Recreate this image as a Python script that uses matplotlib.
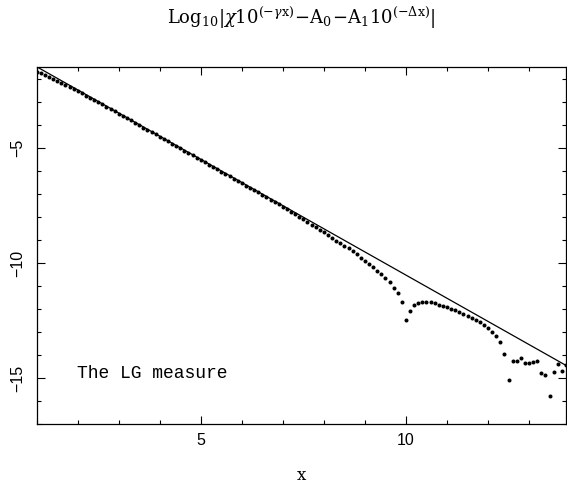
import matplotlib
matplotlib.use('Agg')
import matplotlib.pyplot as plt
from matplotlib.ticker import MultipleLocator

# fitted straight line (end points)
line_x = [1.0, 13.9]
line_y = [-1.45, -14.45]

# computed points, one every 0.1 in x
pts_x = [1.0, 1.1, 1.2, 1.3, 1.4, 1.5, 1.6, 1.7, 1.8, 1.9,
         2.0, 2.1, 2.2, 2.3, 2.4, 2.5, 2.6, 2.7, 2.8, 2.9,
         3.0, 3.1, 3.2, 3.3, 3.4, 3.5, 3.6, 3.7, 3.8, 3.9,
         4.0, 4.1, 4.2, 4.3, 4.4, 4.5, 4.6, 4.7, 4.8, 4.9,
         5.0, 5.1, 5.2, 5.3, 5.4, 5.5, 5.6, 5.7, 5.8, 5.9,
         6.0, 6.1, 6.2, 6.3, 6.4, 6.5, 6.6, 6.7, 6.8, 6.9,
         7.0, 7.1, 7.2, 7.3, 7.4, 7.5, 7.6, 7.7, 7.8, 7.9,
         8.0, 8.1, 8.2, 8.3, 8.4, 8.5, 8.6, 8.7, 8.8, 8.9,
         9.0, 9.1, 9.2, 9.3, 9.4, 9.5, 9.6, 9.7, 9.8, 9.9,
         10.0, 10.1, 10.2, 10.3, 10.4, 10.5, 10.6, 10.7, 10.8, 10.9,
         11.0, 11.1, 11.2, 11.3, 11.4, 11.5, 11.6, 11.7, 11.8, 11.9,
         12.0, 12.1, 12.2, 12.3, 12.4, 12.5, 12.6, 12.7, 12.8, 12.9,
         13.0, 13.1, 13.2, 13.3, 13.4, 13.5, 13.6, 13.7, 13.8, 13.9]
pts_y = [-1.66, -1.74, -1.82, -1.90, -1.98, -2.08, -2.16, -2.25, -2.34, -2.43,
         -2.52, -2.61, -2.71, -2.80, -2.90, -3.00, -3.09, -3.19, -3.29, -3.39,
         -3.49, -3.59, -3.69, -3.79, -3.89, -3.99, -4.10, -4.20, -4.30, -4.40,
         -4.50, -4.60, -4.70, -4.80, -4.90, -5.00, -5.11, -5.21, -5.31, -5.41,
         -5.51, -5.61, -5.71, -5.81, -5.91, -6.02, -6.12, -6.22, -6.32, -6.42,
         -6.52, -6.62, -6.72, -6.82, -6.92, -7.03, -7.14, -7.24, -7.34, -7.44,
         -7.54, -7.65, -7.76, -7.86, -7.97, -8.08, -8.20, -8.32, -8.43, -8.54,
         -8.65, -8.77, -8.89, -9.02, -9.13, -9.25, -9.36, -9.48, -9.61, -9.76,
         -9.90, -10.03, -10.18, -10.33, -10.49, -10.65, -10.84, -11.06, -11.32, -11.67,
         -12.48, -12.07, -11.83, -11.73, -11.68, -11.68, -11.70, -11.74, -11.80, -11.86,
         -11.91, -11.99, -12.06, -12.13, -12.22, -12.29, -12.38, -12.47, -12.57, -12.70,
         -12.83, -13.00, -13.19, -13.42, -13.97, -15.07, -14.26, -14.26, -14.13, -14.33,
         -14.33, -14.32, -14.28, -14.78, -14.87, -15.78, -14.74, -14.41, -14.70, -14.45]

title = r'$\mathrm{Log}_{10}|\chi 10^{(-\gamma \mathrm{x})}\!-\!\mathrm{A}_0\!-\!\mathrm{A}_1 10^{(-\Delta \mathrm{x})}|$'

plt.rcParams['mathtext.fontset'] = 'dejavuserif'

fig = plt.figure(figsize=(5.67, 4.87), dpi=100)
ax = fig.add_axes([0.0647, 0.1294, 0.9335, 0.7336])

ax.plot(line_x, line_y, color='black', lw=0.9)
ax.plot(pts_x, pts_y, 'o', color='black', ms=2.9, mec='none')

ax.set_xlim(1.0, 13.9)
ax.set_ylim(-17.0, -1.45)

ax.xaxis.set_major_locator(MultipleLocator(5))
ax.xaxis.set_minor_locator(MultipleLocator(1))
ax.yaxis.set_major_locator(MultipleLocator(5))
ax.yaxis.set_minor_locator(MultipleLocator(1))

ax.tick_params(which='both', direction='in', top=True, right=True, width=0.8)
ax.tick_params(which='major', length=6)
ax.tick_params(which='minor', length=3.2)
ax.tick_params(axis='x', pad=6.5)
ax.tick_params(axis='y', pad=8, labelrotation=90)
for spine in ax.spines.values():
    spine.set_linewidth(0.9)

for lab in ax.get_xticklabels():
    lab.set_fontfamily('Liberation Sans')
    lab.set_fontsize(11.5)
for lab in ax.get_yticklabels():
    lab.set_fontfamily('Liberation Sans')
    lab.set_fontsize(11.5)
    lab.set_va('center')

ax.set_xlabel('x', family='DejaVu Serif', fontsize=12, labelpad=14)
fig.text(0.531, 0.963, title, ha='center', va='center', fontsize=13)
ax.text(1.98, -14.81, 'The LG measure', family='Liberation Mono',
        fontsize=13, va='center', ha='left')

fig.savefig('out.png', dpi=100)
